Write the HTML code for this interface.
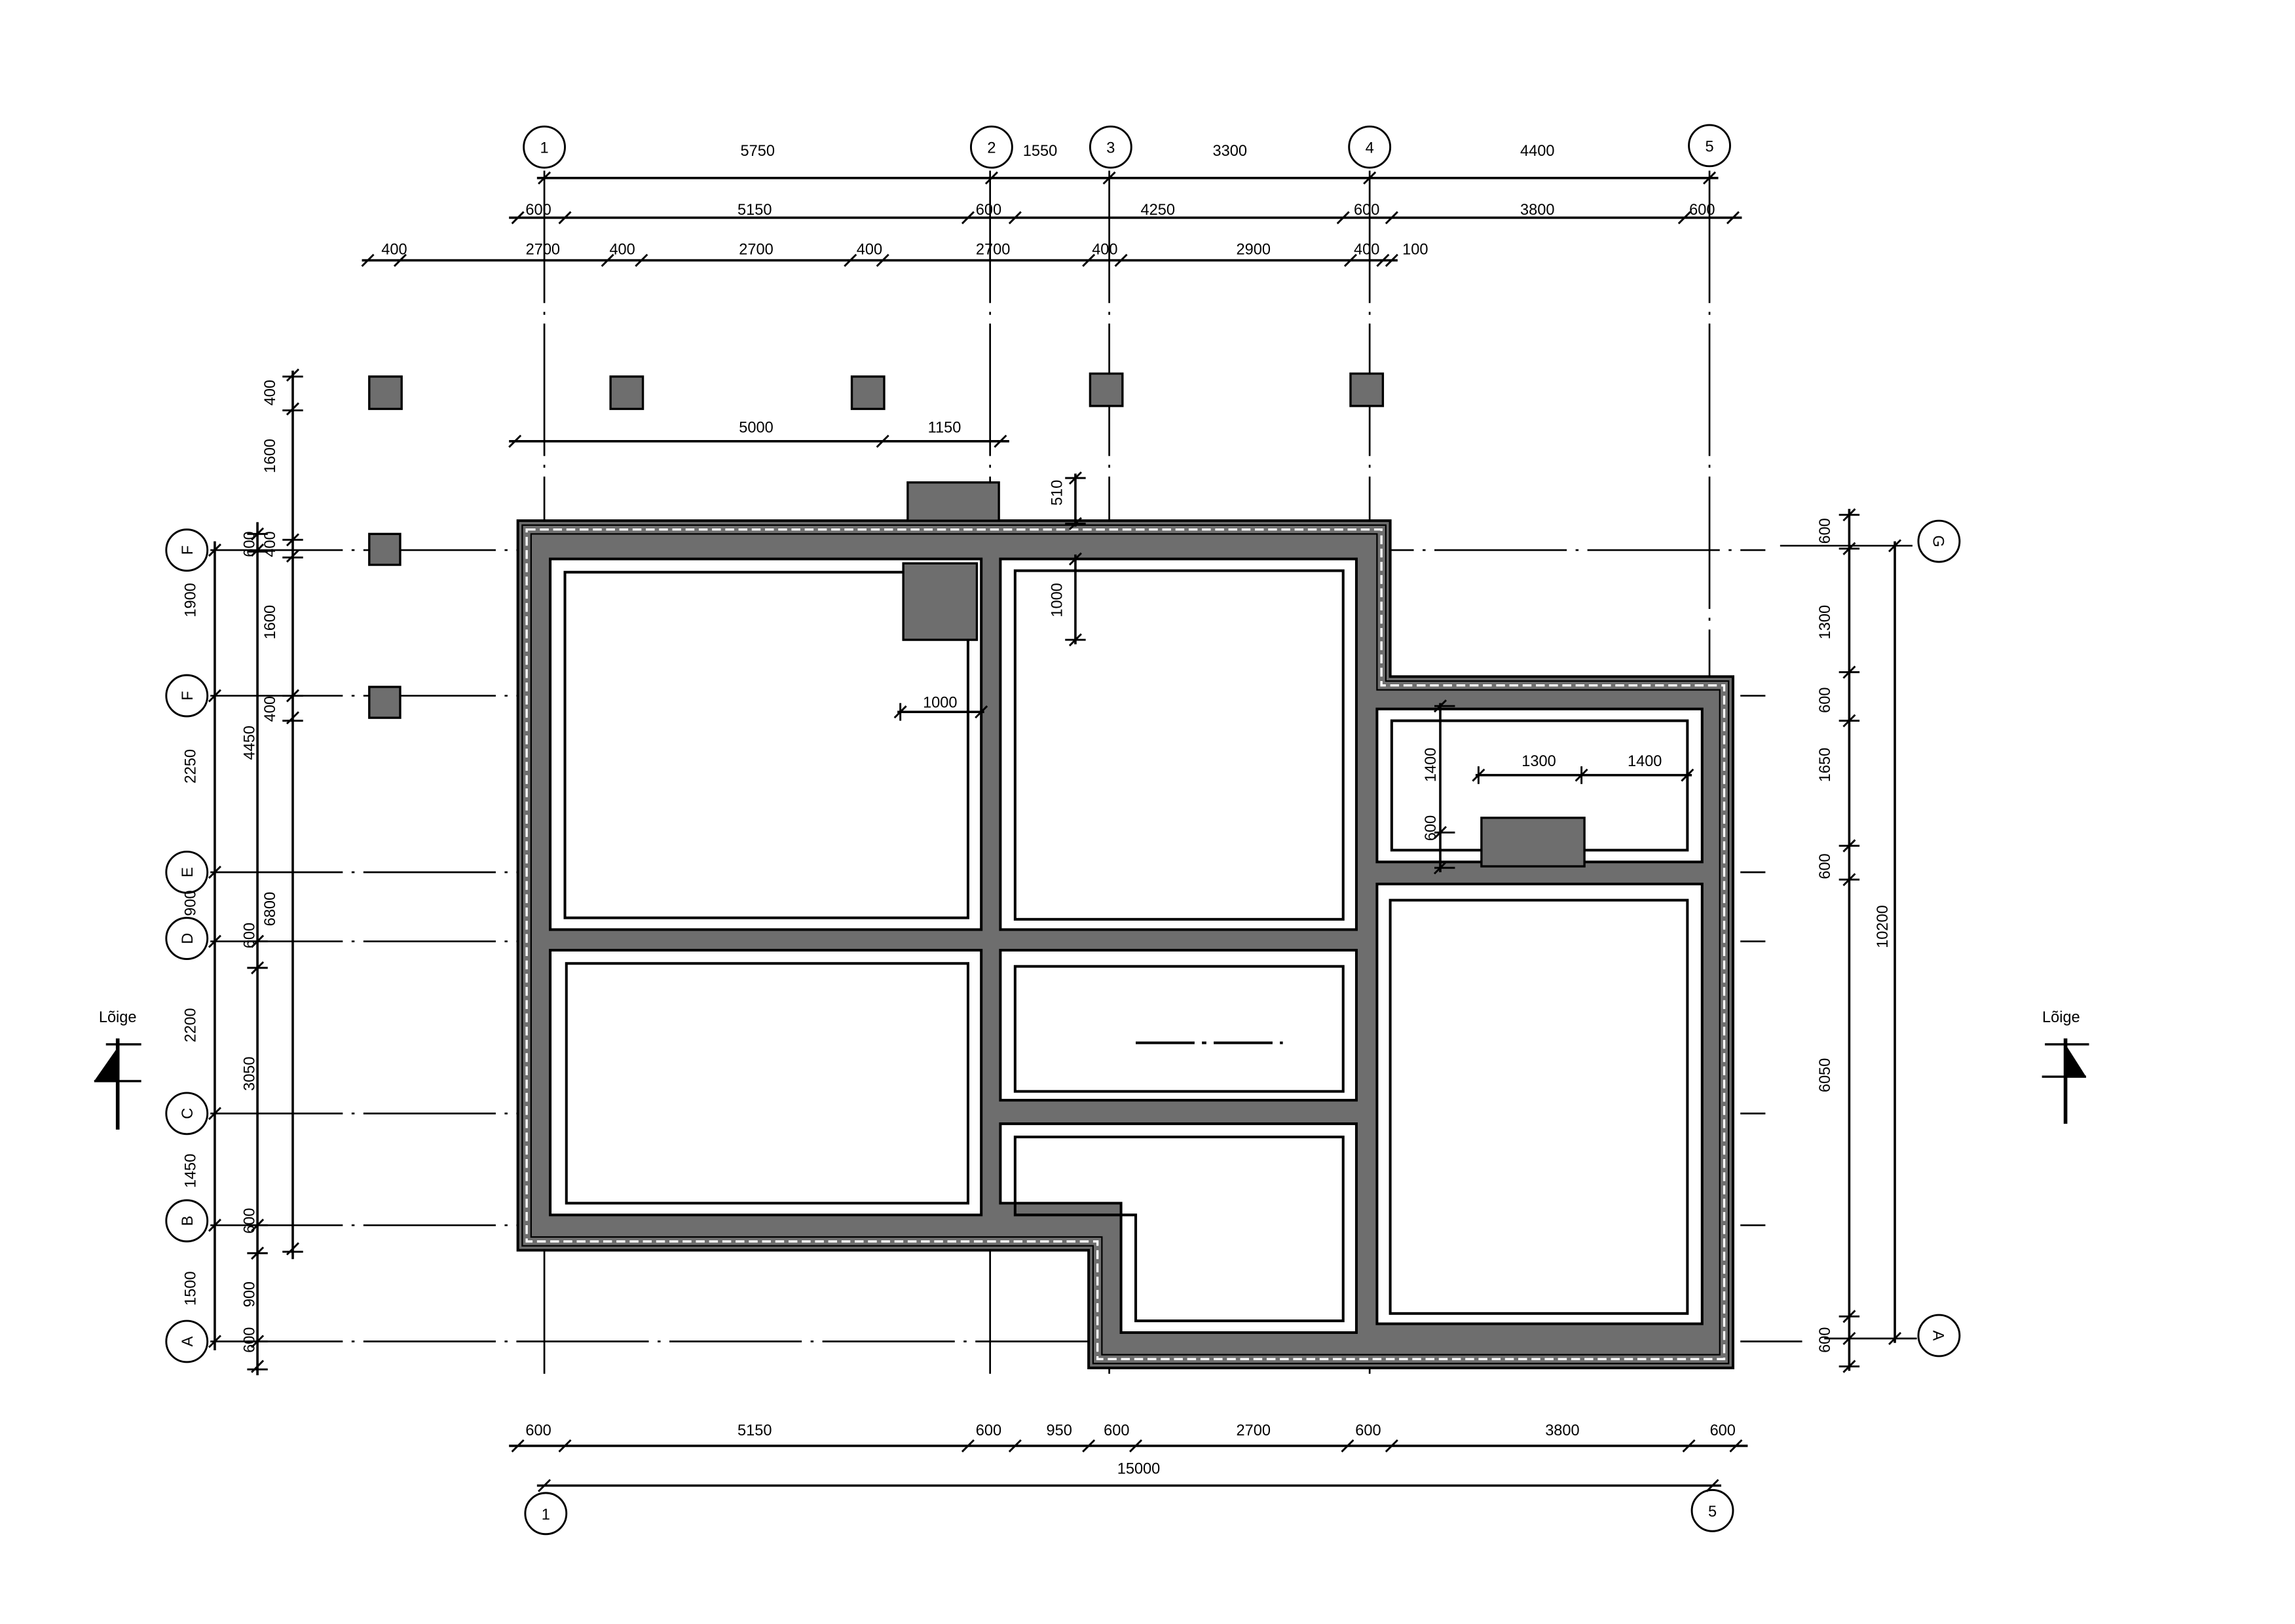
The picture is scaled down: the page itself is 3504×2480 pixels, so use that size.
<!DOCTYPE html>
<html><head><meta charset="utf-8"><style>
html,body{margin:0;padding:0;background:#fff}
svg{display:block}
text{font-family:"Liberation Sans",sans-serif;font-size:10.5px;fill:#000}
.g{stroke:#000;stroke-width:1.2;fill:none;stroke-dasharray:90 6 2 6}
.d{stroke:#000;stroke-width:1.6;fill:none}
.t{stroke:#000;stroke-width:1.3;fill:none}
.r{fill:#fff;stroke:#000;stroke-width:1.8}
</style></head><body>
<svg width="3504" height="2480" viewBox="0 0 1560 1104.1" xmlns="http://www.w3.org/2000/svg">
<rect width="1560" height="1104.1" fill="#fff"/>

<!-- grid lines vertical -->
<g class="g">
<line x1="370" y1="116" x2="370" y2="940"/>
<line x1="673" y1="116" x2="673" y2="940"/>
<line x1="754" y1="116" x2="754" y2="940"/>
<line x1="931" y1="116" x2="931" y2="940"/>
<line x1="1162" y1="116" x2="1162" y2="930"/>
<line x1="143" y1="374" x2="1200" y2="374"/>
<line x1="143" y1="473" x2="1200" y2="473"/>
<line x1="143" y1="593" x2="1200" y2="593"/>
<line x1="143" y1="640" x2="1200" y2="640"/>
<line x1="143" y1="757" x2="1200" y2="757"/>
<line x1="143" y1="833" x2="1200" y2="833"/>
<line x1="143" y1="912" x2="1225" y2="912"/>
<line x1="1210" y1="371" x2="1303" y2="371"/>
<line x1="1240" y1="910" x2="1303" y2="910"/>
</g>

<!-- foundation -->
<path d="M352,354 H945 V460 H1178 V930 H740 V850 H352 Z" fill="#6e6e6e" stroke="#000" stroke-width="1.8"/>
<path d="M358,360 H939 V466 H1172 V924 H746 V844 H358 Z" fill="none" stroke="#fff" stroke-width="1.5" stroke-dasharray="6 3"/>
<path d="M361,363 H936 V469 H1169 V921 H749 V841 H361 Z" fill="none" stroke="#000" stroke-width="1"/>
<path d="M355,357 H942 V463 H1175 V927 H743 V847 H355 Z" fill="none" stroke="#000" stroke-width="1"/>

<g class="r">
<rect x="374" y="380" width="293" height="252"/>
<rect x="680" y="380" width="242" height="252"/>
<rect x="936" y="482" width="221" height="104"/>
<rect x="936" y="601" width="221" height="299"/>
<rect x="374" y="646" width="293" height="180"/>
<rect x="680" y="646" width="242" height="102"/>
<path d="M680,764 H922 V906 H762 V818 H680 Z"/>
</g>
<g fill="none" stroke="#000" stroke-width="1.8">
<rect x="384" y="389" width="274" height="235"/>
<rect x="690" y="388" width="223" height="237"/>
<rect x="946" y="490" width="201" height="88"/>
<rect x="945" y="612" width="202" height="281"/>
<rect x="385" y="655" width="273" height="163"/>
<rect x="690" y="657" width="223" height="85"/>
<path d="M690,773 H913 V898 H772 V826 H690 Z"/>
</g>
<line x1="772" y1="709" x2="872" y2="709" stroke="#000" stroke-width="1.8" stroke-dasharray="40 5 3 5"/>

<!-- blocks -->
<g fill="#6e6e6e" stroke="#000" stroke-width="1.5">
<rect x="617" y="328" width="62" height="26"/>
<rect x="614" y="383" width="50" height="52"/>
<rect x="1007" y="556" width="70" height="33"/>
<rect x="251" y="256" width="22" height="22"/>
<rect x="415" y="256" width="22" height="22"/>
<rect x="579" y="256" width="22" height="22"/>
<rect x="741" y="254" width="22" height="22"/>
<rect x="918" y="254" width="22" height="22"/>
<rect x="251" y="363" width="21" height="21"/>
<rect x="251" y="467" width="21" height="21"/>
</g>

<!-- grid circles -->
<g fill="#fff" stroke="#000" stroke-width="1.3">
<circle cx="370" cy="100" r="14"/><circle cx="674" cy="100" r="14"/><circle cx="755" cy="100" r="14"/>
<circle cx="931" cy="100" r="14"/><circle cx="1162" cy="99" r="14"/>
<circle cx="371" cy="1029" r="14"/><circle cx="1164" cy="1027" r="14"/>
<circle cx="127" cy="374" r="14"/><circle cx="127" cy="473" r="14"/><circle cx="127" cy="593" r="14"/>
<circle cx="127" cy="638" r="14"/><circle cx="127" cy="757" r="14"/><circle cx="127" cy="830" r="14"/>
<circle cx="127" cy="912" r="14"/>
<circle cx="1318" cy="368" r="14"/><circle cx="1318" cy="908" r="14"/>
</g>
<g text-anchor="middle">
<text x="370" y="104">1</text><text x="674" y="104">2</text><text x="755" y="104">3</text>
<text x="931" y="104">4</text><text x="1162" y="103">5</text>
<text x="371" y="1033">1</text><text x="1164" y="1031">5</text>
<text transform="translate(131,374) rotate(-90)">F</text>
<text transform="translate(131,473) rotate(-90)">F</text>
<text transform="translate(131,593) rotate(-90)">E</text>
<text transform="translate(131,638) rotate(-90)">D</text>
<text transform="translate(131,757) rotate(-90)">C</text>
<text transform="translate(131,830) rotate(-90)">B</text>
<text transform="translate(131,912) rotate(-90)">A</text>
<text transform="translate(1314,368) rotate(90)">G</text>
<text transform="translate(1314,908) rotate(90)">A</text>
</g>

<!-- dimension lines -->
<g class="d">
<line x1="365" y1="121" x2="1168" y2="121"/>
<line x1="346" y1="148" x2="1184" y2="148"/>
<line x1="246" y1="177" x2="950" y2="177"/>
<line x1="346" y1="300" x2="686" y2="300"/>
<line x1="346" y1="983" x2="1188" y2="983"/>
<line x1="365" y1="1010" x2="1170" y2="1010"/>
<line x1="146" y1="368" x2="146" y2="918"/>
<line x1="175" y1="355" x2="175" y2="935"/>
<line x1="199" y1="252" x2="199" y2="856"/>
<line x1="1257" y1="346" x2="1257" y2="932"/>
<line x1="1288" y1="368" x2="1288" y2="913"/>
<line x1="731" y1="322" x2="731" y2="358"/>
<line x1="731" y1="377" x2="731" y2="438"/>
<line x1="610" y1="484" x2="669" y2="484"/>
<line x1="979" y1="478" x2="979" y2="593"/>
<line x1="1003" y1="527" x2="1150" y2="527"/>
</g>
<!-- ticks -->
<g class="t">
<path d="M366,125l8,-8M670,125l8,-8M750,125l8,-8M927,125l8,-8M1158,125l8,-8"/>
<path d="M348,152l8,-8M380,152l8,-8M654,152l8,-8M686,152l8,-8M909,152l8,-8M942,152l8,-8M1141,152l8,-8M1174,152l8,-8"/>
<path d="M246,181l8,-8M268,181l8,-8M409,181l8,-8M432,181l8,-8M574,181l8,-8M596,181l8,-8M736,181l8,-8M758,181l8,-8M914,181l8,-8M936,181l8,-8M942,181l8,-8"/>
<path d="M346,304l8,-8M596,304l8,-8M676,304l8,-8"/>
<path d="M348,987l8,-8M380,987l8,-8M654,987l8,-8M686,987l8,-8M736,987l8,-8M768,987l8,-8M912,987l8,-8M942,987l8,-8M1144,987l8,-8M1176,987l8,-8"/>
<path d="M366,1014l8,-8M1160,1014l8,-8"/>
<path d="M142,378l8,-8M142,477l8,-8M142,597l8,-8M142,644l8,-8M142,761l8,-8M142,837l8,-8M142,916l8,-8"/>
<path d="M171,367l8,-8M171,378l8,-8M171,644l8,-8M171,662l8,-8M171,837l8,-8M171,856l8,-8M171,916l8,-8M171,933l8,-8"/>
<path d="M195,259l8,-8M195,282l8,-8M195,371l8,-8M195,382l8,-8M195,477l8,-8M195,492l8,-8M195,853l8,-8"/>
<path d="M1253,354l8,-8M1253,377l8,-8M1253,461l8,-8M1253,494l8,-8M1253,579l8,-8M1253,602l8,-8M1253,899l8,-8M1253,914l8,-8M1253,933l8,-8"/>
<path d="M1284,375l8,-8M1284,914l8,-8"/>
<path d="M727,329l8,-8M727,360l8,-8M727,384l8,-8M727,439l8,-8"/>
<path d="M608,488l8,-8M663,488l8,-8"/>
<path d="M975,484l8,-8M975,570l8,-8M975,594l8,-8"/>
<path d="M1001,531l8,-8M1071,531l8,-8M1143,531l8,-8"/>
</g>
<!-- tick cross bars -->
<g class="t">
<path d="M192,256h14M192,279h14M192,367h14M192,379h14M192,473h14M192,490h14M192,851h14M168,363h14M168,375h14M168,640h14M168,658h14M168,833h14M168,852h14M168,912h14M168,931h14"/>
<path d="M1250,350h14M1250,373h14M1250,457h14M1250,490h14M1250,575h14M1250,598h14M1250,895h14M1250,929h14"/>
<path d="M724,325h14M724,356h14M724,380h14M724,435h14M975,480h14M975,566h14M975,590h14M612,478v12M1005,521v12M1075,521v12M1147,521v12"/>
</g>

<!-- dim text -->
<g text-anchor="middle">
<text x="515" y="106">5750</text><text x="707" y="106">1550</text><text x="836" y="106">3300</text><text x="1045" y="106">4400</text>
<text x="366" y="146">600</text><text x="513" y="146">5150</text><text x="672" y="146">600</text><text x="787" y="146">4250</text><text x="929" y="146">600</text><text x="1045" y="146">3800</text><text x="1157" y="146">600</text>
<text x="268" y="173">400</text><text x="369" y="173">2700</text><text x="423" y="173">400</text><text x="514" y="173">2700</text><text x="591" y="173">400</text><text x="675" y="173">2700</text><text x="751" y="173">400</text><text x="852" y="173">2900</text><text x="929" y="173">400</text><text x="962" y="173">100</text>
<text x="514" y="294">5000</text><text x="642" y="294">1150</text>
<text x="639" y="481">1000</text>
<text x="1046" y="521">1300</text><text x="1118" y="521">1400</text>
<text x="366" y="976">600</text><text x="513" y="976">5150</text><text x="672" y="976">600</text><text x="720" y="976">950</text><text x="759" y="976">600</text><text x="852" y="976">2700</text><text x="930" y="976">600</text><text x="1062" y="976">3800</text><text x="1171" y="976">600</text>
<text x="774" y="1002">15000</text>
<text transform="translate(722,335) rotate(-90)">510</text>
<text transform="translate(722,408) rotate(-90)">1000</text>
<text transform="translate(976,520) rotate(-90)">1400</text>
<text transform="translate(976,563) rotate(-90)">600</text>
<text transform="translate(133,408) rotate(-90)">1900</text>
<text transform="translate(133,521) rotate(-90)">2250</text>
<text transform="translate(133,614) rotate(-90)">900</text>
<text transform="translate(133,697) rotate(-90)">2200</text>
<text transform="translate(133,796) rotate(-90)">1450</text>
<text transform="translate(133,876) rotate(-90)">1500</text>
<text transform="translate(173,370) rotate(-90)">600</text>
<text transform="translate(173,505) rotate(-90)">4450</text>
<text transform="translate(173,636) rotate(-90)">600</text>
<text transform="translate(173,730) rotate(-90)">3050</text>
<text transform="translate(173,830) rotate(-90)">600</text>
<text transform="translate(173,880) rotate(-90)">900</text>
<text transform="translate(173,911) rotate(-90)">600</text>
<text transform="translate(187,267) rotate(-90)">400</text>
<text transform="translate(187,310) rotate(-90)">1600</text>
<text transform="translate(187,370) rotate(-90)">400</text>
<text transform="translate(187,423) rotate(-90)">1600</text>
<text transform="translate(187,482) rotate(-90)">400</text>
<text transform="translate(187,618) rotate(-90)">6800</text>
<text transform="translate(1244,361) rotate(-90)">600</text>
<text transform="translate(1244,423) rotate(-90)">1300</text>
<text transform="translate(1244,476) rotate(-90)">600</text>
<text transform="translate(1244,520) rotate(-90)">1650</text>
<text transform="translate(1244,589) rotate(-90)">600</text>
<text transform="translate(1244,731) rotate(-90)">6050</text>
<text transform="translate(1244,911) rotate(-90)">600</text>
<text transform="translate(1283,630) rotate(-90)">10200</text>
</g>

<!-- section markers -->
<text x="80" y="695" text-anchor="middle">Lõige</text>
<line x1="80" y1="706" x2="80" y2="768" stroke="#000" stroke-width="2.5"/>
<line x1="64" y1="735" x2="96" y2="735" stroke="#000" stroke-width="1.5"/>
<line x1="72" y1="710" x2="96" y2="710" stroke="#000" stroke-width="1.5"/>
<path d="M64,735 L80,735 L80,712 Z" fill="#000"/>
<text x="1401" y="695" text-anchor="middle">Lõige</text>
<line x1="1404" y1="706" x2="1404" y2="764" stroke="#000" stroke-width="2.5"/>
<line x1="1388" y1="732" x2="1418" y2="732" stroke="#000" stroke-width="1.5"/>
<line x1="1390" y1="710" x2="1420" y2="710" stroke="#000" stroke-width="1.5"/>
<path d="M1404,710 L1404,732 L1418,732 Z" fill="#000"/>
</svg>
</body></html>
